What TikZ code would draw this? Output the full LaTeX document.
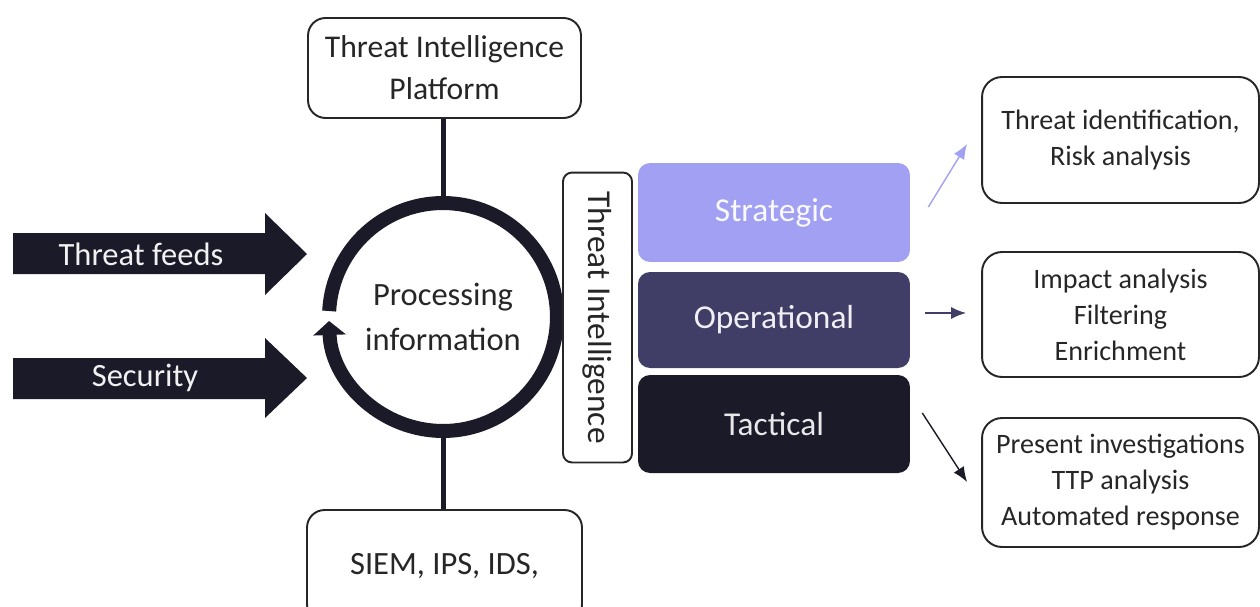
\documentclass[tikz,border=0pt]{standalone}
\usepackage{fontspec}
\setmainfont{Carlito}
\usetikzlibrary{arrows.meta,calc}
\definecolor{darknavy}{RGB}{27,26,40}
\definecolor{stratc}{RGB}{161,160,242}
\definecolor{operc}{RGB}{64,62,102}
\definecolor{txt}{RGB}{38,38,38}
\begin{document}
\begin{tikzpicture}[x=0.02cm,y=0.02cm,
  box/.style={draw=txt, line width=1.1pt, rounded corners=0.35cm, align=center, text=txt,
    font=\fontsize{18}{23.9}\selectfont, inner sep=0pt},
  outbox/.style={draw=txt, line width=1.1pt, rounded corners=0.4cm, minimum width=5.54cm,
    align=center, text=txt, font=\fontsize{16}{20.5}\selectfont, inner sep=0pt},
  layer/.style={rounded corners=0.24cm, minimum width=5.44cm, inner sep=0pt,
    font=\fontsize{19}{23}\selectfont},
  arrowtext/.style={text=white!94!darknavy, font=\fontsize{18.5}{22}\selectfont, inner sep=0pt},
  thinarrow/.style={line width=0.8pt, -{Latex[length=0.3cm,width=0.24cm]}},
  stem/.style={darknavy, line width=0.1cm}
]
\useasboundingbox (0,0) rectangle (1260,-606);

% big input arrows
\fill[darknavy] (13,-233) -- (265,-233) -- (265,-213) -- (307,-254) -- (265,-295) -- (265,-274) -- (13,-274) -- cycle;
\node[arrowtext] (feeds) at (141,-254) {Threat feeds};
\fill[darknavy] (13,-358) -- (265,-358) -- (265,-338) -- (307,-378) -- (265,-418) -- (265,-399) -- (13,-399) -- cycle;
\node[arrowtext] (sec) at (145,-378) {Security};

% top and bottom boxes
\node[box, minimum width=5.46cm, minimum height=2cm] (tip) at (444.5,-68) {Threat Intelligence\\Platform};
\node[box, minimum width=5.5cm, minimum height=2.24cm, font=\fontsize{18.5}{24}\selectfont] (siem) at (444.5,-566) {SIEM, IPS, IDS,};

% processing circle
\node[circle, minimum size=4.84cm, inner sep=0pt, align=center, text=txt,
  font=\fontsize{18.5}{25.6}\selectfont] (proc) at (443,-317) {Processing\\information};
\draw[darknavy, line width=0.28cm, -{Triangle[width=0.64cm,length=0.28cm]}]
  ($(proc.center)+(177:2.28cm)$) arc[start angle=177, end angle=-178, radius=2.28cm];
\draw[stem] (proc.north) -- (proc.north |- tip.south);
\draw[stem] (proc.south) -- (proc.south |- siem.north);

% threat intelligence vertical label
\node[draw=txt, line width=1.1pt, rounded corners=0.18cm, minimum width=5.8cm, minimum height=1.38cm,
  rotate=-90, font=\fontsize{19}{23}\selectfont, text=txt, inner sep=0pt] (ti) at (597.5,-317.5) {Threat Intelligence};

% layers
\node[layer, fill=stratc, text=white!95!stratc, minimum height=1.98cm] (strat) at (774,-212.5) {Strategic};
\node[layer, fill=operc, text=white!92!operc, minimum height=1.92cm] (oper) at (774,-320) {Operational};
\node[layer, fill=darknavy, text=white!90!darknavy, minimum height=1.96cm] (tact) at (774,-424) {Tactical};

% output boxes
\node[outbox, minimum height=2.52cm] (box1) at (1120.5,-140) {Threat identification,\\Risk analysis};
\node[outbox, minimum height=2.5cm] (box2) at (1120.5,-314.5) {Impact analysis\\Filtering\\Enrichment};
\node[outbox, minimum height=2.58cm] (box3) at (1120.5,-482.5) {Present investigations\\TTP analysis\\Automated response};

% connectors
\draw[thinarrow, stratc] ([shift={(18,5.5)}]strat.east) -- ([shift={(-14,60)}]box1.south west);
\draw[thinarrow, operc] ([shift={(15,7)}]oper.east) -- ([shift={(-15,1.5)}]box2.west);
\draw[thinarrow, darknavy] ([shift={(12,11)}]tact.east) -- ([shift={(-14,0.5)}]box3.west);
\end{tikzpicture}
\end{document}
